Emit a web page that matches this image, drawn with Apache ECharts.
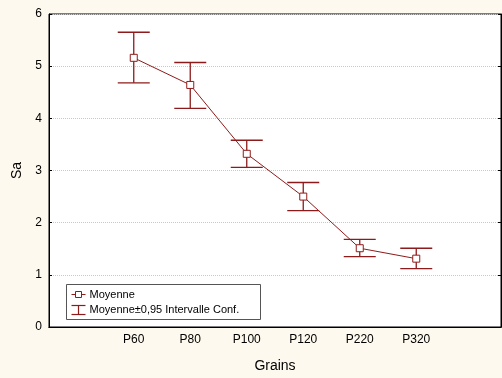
<!DOCTYPE html>
<html><head><meta charset="utf-8">
<script src="https://cdn.jsdelivr.net/npm/echarts@6/dist/echarts.min.js"></script>
<style>html,body{margin:0;padding:0;background:#FDF9EE;}#c{width:502px;height:378px;}</style>
</head><body><div id="c"></div>
<script>
var categories = ['', 'P60', 'P80', 'P100', 'P120', 'P220', 'P320', ''];
var means = [null, 5.16, 4.64, 3.32, 2.50, 1.51, 1.31, null];
var upper = [null, 5.65, 5.07, 3.58, 2.77, 1.68, 1.51, null];
var lower = [null, 4.68, 4.19, 3.06, 2.23, 1.35, 1.12, null];
var yTicks = [0, 1, 2, 3, 4, 5, 6];

var col = '#8E1B1B';
var chart = echarts.init(document.getElementById('c'), null, {renderer: 'canvas'});
var errData = [];
for (var i = 0; i < categories.length; i++) {
  if (means[i] !== null) errData.push([i, lower[i], upper[i]]);
}
var font = 'Arial, "Liberation Sans", sans-serif';
chart.setOption({
  backgroundColor: '#FDF9EE',
  animation: false,
  grid: {left: 49, right: 1, top: 14, bottom: 49, show: true, backgroundColor: '#ffffff', borderColor: '#000', borderWidth: 1},
  xAxis: [{
    type: 'category', data: categories, boundaryGap: true,
    axisLine: {lineStyle: {color: '#000'}},
    axisTick: {inside: true, alignWithLabel: true, length: 3, lineStyle: {color: '#000'}},
    axisLabel: {color: '#000', fontFamily: font, fontSize: 12, margin: 7, interval: 0},
    name: 'Grains', nameLocation: 'middle', nameGap: 32,
    nameTextStyle: {color: '#000', fontFamily: font, fontSize: 14}
  }, {
    type: 'category', data: categories, position: 'top', boundaryGap: true,
    axisLine: {lineStyle: {color: '#000'}},
    axisTick: {inside: true, alignWithLabel: true, length: 3, lineStyle: {color: '#000'}},
    axisLabel: {show: false}
  }],
  yAxis: [{
    type: 'value', min: 0, max: 6, interval: 1,
    axisLine: {show: true, lineStyle: {color: '#000'}},
    axisTick: {show: true, inside: true, length: 3, lineStyle: {color: '#000'}},
    axisLabel: {color: '#000', fontFamily: font, fontSize: 12, margin: 7,
      formatter: function (v) { return yTicks.indexOf(v) >= 0 ? String(v) : ''; }},
    splitLine: {show: true, lineStyle: {color: '#c8c8c8', type: [1, 1], width: 1}},
    name: 'Sa', nameLocation: 'middle', nameGap: 22,
    nameTextStyle: {color: '#000', fontFamily: font, fontSize: 14}
  }, {
    type: 'value', min: 0, max: 6, interval: 1, position: 'right',
    axisLine: {show: true, lineStyle: {color: '#000'}},
    axisTick: {show: true, inside: true, length: 3, lineStyle: {color: '#000'}},
    axisLabel: {show: false}, splitLine: {show: false}
  }],
  series: [{
    type: 'custom', xAxisIndex: 0, yAxisIndex: 0, data: errData, z: 3,
    renderItem: function (params, api) {
      var x = api.value(0);
      var lo = api.coord([x, api.value(1)]);
      var hi = api.coord([x, api.value(2)]);
      var hw = 16;
      var st = {stroke: col, lineWidth: 1.3};
      return {type: 'group', children: [
        {type: 'line', shape: {x1: lo[0], y1: lo[1], x2: hi[0], y2: hi[1]}, style: st},
        {type: 'line', shape: {x1: lo[0] - hw, y1: lo[1], x2: lo[0] + hw, y2: lo[1]}, style: st},
        {type: 'line', shape: {x1: hi[0] - hw, y1: hi[1], x2: hi[0] + hw, y2: hi[1]}, style: st}
      ]};
    }
  }, {
    type: 'line', xAxisIndex: 0, yAxisIndex: 0, data: means, z: 4,
    symbol: 'rect', symbolSize: 7, showAllSymbol: true, connectNulls: false,
    lineStyle: {color: col, width: 1},
    itemStyle: {color: '#fff', borderColor: col, borderWidth: 1}
  }],
  graphic: [{
    type: 'group', left: 66, top: 284, children: [
      {type: 'rect', shape: {x: 0, y: 0, width: 194, height: 35}, style: {fill: '#fff', stroke: '#555', lineWidth: 1}},
      {type: 'line', shape: {x1: 5, y1: 10, x2: 19, y2: 10}, style: {stroke: col, lineWidth: 1}},
      {type: 'rect', shape: {x: 9, y: 7, width: 6, height: 6}, style: {fill: '#fff', stroke: col, lineWidth: 1}},
      {type: 'text', style: {x: 23, y: 10, text: 'Moyenne', fill: '#000', font: '11px ' + font, verticalAlign: 'middle'}},
      {type: 'line', shape: {x1: 12, y1: 21, x2: 12, y2: 30}, style: {stroke: col, lineWidth: 1.2}},
      {type: 'line', shape: {x1: 5, y1: 21, x2: 19, y2: 21}, style: {stroke: col, lineWidth: 1.2}},
      {type: 'line', shape: {x1: 5, y1: 30, x2: 19, y2: 30}, style: {stroke: col, lineWidth: 1.2}},
      {type: 'text', style: {x: 23, y: 25, text: 'Moyenne±0,95 Intervalle Conf.', fill: '#000', font: '11px ' + font, verticalAlign: 'middle'}}
    ]
  }]
});
</script></body></html>
